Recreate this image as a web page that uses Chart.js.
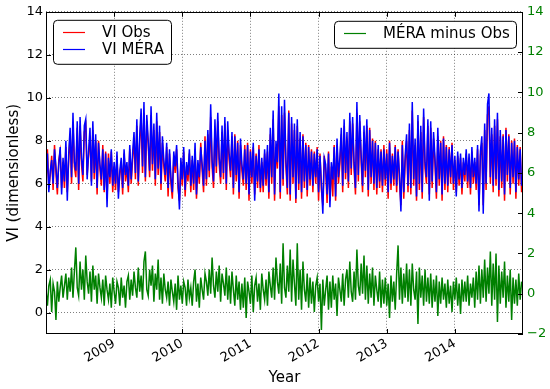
<!DOCTYPE html>
<html>
<head>
<meta charset="utf-8">
<script src="https://cdn.jsdelivr.net/npm/chart.js@4.4.0/dist/chart.umd.min.js"></script>
<style>
  body { margin: 0; background: #fff; }
</style>
</head>
<body>
<canvas id="viChart" width="550" height="389"></canvas>
<script>
// time axis: 48 samples a year, Jan 2008 -> Dec 2014
const startYear = 2008;
const endYear = 2015;
const perYear = 48;

const yearTicks = [2009, 2010, 2011, 2012, 2013, 2014];
const leftTicks = [0, 2, 4, 6, 8, 10, 12, 14];
const rightTicks = [-2, 0, 2, 4, 6, 8, 10, 12, 14];

// VI Obs (red)
const obsVI = [
  // 2008
  5.9,7.6,5.8,6.4,7.3,5.7,7.8,6.5,5.5,7.1,7.5,5.8, 7.0,5.8,7.7,5.6,7.1,8.3,6.0,8.8,6.8,6.3,8.6,5.7,
  8.7,6.9,6.1,8.4,8.7,6.4,7.3,8.2,6.1,8.5,6.2,8.0, 5.5,8.0,6.7,5.9,7.8,5.6,7.5,5.3,7.4,6.0,7.5,5.6,
  // 2009
  6.8,5.7,7.3,5.6,6.4,7.0,5.5,7.4,6.1,6.8,5.6,7.6, 6.0,7.1,8.1,6.2,8.7,5.9,7.9,9.1,6.5,9.3,6.1,8.9,
  7.8,6.3,9.2,6.6,8.5,5.9,8.9,6.4,8.4,5.7,7.9,6.8, 6.1,7.7,5.4,7.4,6.0,5.3,7.3,6.5,7.6,5.8,5.2,7.0,
  // 2010
  5.9,7.5,5.4,6.8,6.1,7.4,5.6,7.1,5.7,7.6,5.3,6.9, 6.0,7.9,6.6,5.6,8.2,5.9,8.3,6.3,9.1,6.8,5.8,8.6,
  6.5,8.9,6.9,6.0,8.4,6.2,8.8,5.7,8.5,7.1,6.3,8.2, 5.5,8.3,6.1,8.0,5.3,7.8,6.6,5.9,7.8,5.7,7.9,5.2,
  // 2011
  7.6,6.0,7.7,5.5,7.4,5.8,7.8,5.6,7.0,5.6,7.4,5.9, 7.5,5.3,8.3,6.0,9.0,5.2,7.7,6.7,9.6,5.3,9.2,5.9,
  9.3,6.8,5.5,9.4,5.2,8.8,6.0,8.5,5.1,8.7,5.7,8.1, 5.3,8.3,5.8,7.9,5.4,7.8,5.9,7.6,5.6,7.5,6.0,7.7,
  // 2012
  5.2,7.4,5.7,5.0,7.3,6.6,5.1,7.5,5.2,6.8,5.4,7.8, 5.2,7.8,6.0,6.9,8.3,5.6,8.7,6.2,8.1,5.8,8.9,6.4,
  8.8,6.7,5.5,9.3,6.1,8.9,7.0,5.6,8.4,6.3,8.7,5.4, 8.6,6.0,8.1,5.7,8.0,5.5,7.6,5.8,7.6,5.6,7.8,5.9,
  // 2013
  7.6,5.3,8.0,5.7,7.4,5.9,7.8,5.6,7.6,6.1,5.0,8.0, 5.3,7.0,8.0,5.6,8.5,5.5,9.4,5.9,7.8,5.2,8.9,5.7,
  8.4,5.3,9.1,6.7,6.0,8.7,5.5,8.6,5.8,8.1,6.9,5.3, 8.2,5.9,8.0,5.2,8.2,5.7,7.8,5.6,7.7,6.0,7.9,5.7,
  // 2014
  7.1,5.6,7.3,5.9,7.2,5.5,7.0,6.1,7.4,5.8,7.2,5.5, 7.5,6.0,7.0,5.7,7.6,5.0,7.3,7.9,5.0,8.5,5.7,9.2,
  9.6,6.0,8.3,5.6,8.7,5.9,9.0,5.4,8.2,5.8,8.3,5.2, 8.6,6.1,8.3,5.5,8.0,6.0,8.1,5.3,7.8,5.9,7.7,5.6
];

// VI MÉRA (blue)
const meraVI = [
  // 2008
  6.2,7.4,5.6,6.6,7.1,6.0,7.6,6.8,5.8,6.9,7.7,5.5, 7.2,6.1,8.0,5.2,7.4,8.6,6.3,9.3,7.0,6.6,8.9,6.0,
  9.1,7.2,6.4,8.7,9.0,6.2,7.5,8.6,5.9,8.9,6.5,8.3, 5.8,7.9,6.9,6.2,7.6,5.7,7.4,4.9,7.2,6.3,7.6,5.9,
  // 2009
  7.0,6.0,7.5,5.3,6.6,7.2,5.8,7.6,6.4,7.0,5.9,7.8, 6.2,7.4,8.4,6.5,9.0,6.1,8.2,9.5,6.8,9.8,6.3,9.2,
  8.0,6.6,9.6,6.9,8.8,6.2,9.3,6.7,8.7,6.0,8.2,7.1, 6.4,7.9,5.8,7.6,6.3,5.6,7.5,6.8,7.8,6.1,4.8,7.2,
  // 2010
  6.2,7.7,5.7,7.0,6.4,7.6,5.9,7.3,6.0,7.9,5.5,7.1, 6.3,7.7,6.9,5.9,8.0,6.2,8.5,6.6,9.7,7.1,6.1,9.0,
  6.8,9.3,7.2,6.3,8.7,6.5,9.1,6.0,8.9,7.4,6.6,8.4, 5.8,8.2,6.4,7.9,5.6,8.1,6.9,6.2,7.6,6.0,7.8,5.5,
  // 2011
  7.5,6.3,7.9,5.2,7.3,6.1,7.6,5.8,7.2,5.9,7.6,6.2, 7.8,5.6,8.6,6.3,9.4,5.5,8.0,7.0,10.2,5.6,9.6,6.2,
  9.9,7.1,5.8,9.3,5.5,9.1,6.3,8.8,5.3,9.0,6.0,8.4, 5.6,8.2,6.1,7.8,5.7,7.7,6.2,7.5,5.9,7.4,6.3,7.6,
  // 2012
  5.6,7.3,6.0,4.6,7.2,6.9,5.5,7.4,4.9,7.0,6.2,7.7, 5.4,8.1,6.3,7.2,8.6,5.9,9.0,6.5,8.4,6.1,9.3,6.7,
  9.1,7.0,5.8,9.8,6.4,9.2,7.3,5.9,8.7,6.6,9.0,5.7, 8.5,6.3,8.0,6.0,7.9,5.8,7.8,6.1,7.5,5.9,7.6,6.2,
  // 2013
  7.4,5.6,7.9,6.0,7.3,6.2,7.7,5.9,7.5,6.4,4.7,7.8, 5.6,7.3,8.3,5.9,8.8,5.8,9.8,6.2,8.1,5.4,9.2,6.0,
  8.7,5.6,9.5,7.0,6.3,9.0,5.2,8.9,6.1,8.4,7.2,5.6, 8.6,6.2,7.9,5.5,8.1,6.0,7.7,5.9,7.6,6.3,7.8,6.0,
  // 2014
  7.3,5.4,7.5,6.2,7.4,5.8,7.2,6.4,7.6,6.1,7.4,5.8, 7.7,6.3,7.2,6.0,7.8,4.7,7.5,8.2,4.6,8.8,6.0,9.7,
  10.2,6.3,8.6,5.9,9.0,6.2,9.3,5.7,8.5,6.1,8.2,5.5, 8.5,6.4,8.2,5.8,7.9,6.3,8.0,5.6,7.7,6.2,7.6,5.9
];

// MÉRA minus Obs (green, right axis)
const diffVI = [
  // 2008
  0.2,-0.6,0.4,0.7,-0.9,0.5,0.1,-1.3,0.6,-0.4,0.3,0.9, -0.2,0.4,1.0,-0.3,0.8,0.1,1.3,-0.2,1.1,2.3,0.3,-0.1,
  1.6,0.2,1.2,-0.3,1.9,0.6,0.0,1.1,-0.4,1.4,0.2,0.9, -0.5,1.0,0.3,-0.2,0.7,-0.6,0.9,0.2,-0.3,0.5,-0.7,0.8,
  // 2009
  0.1,-0.5,0.6,0.3,-0.6,0.8,-0.2,0.4,-0.7,0.6,0.9,-0.3, 0.7,-0.1,1.1,0.3,-0.2,1.3,0.1,0.9,-0.3,1.6,2.1,0.2,
  -0.1,1.2,0.4,1.4,-0.4,1.0,0.2,1.7,-0.3,0.8,-0.5,1.0, 0.2,-0.2,0.6,-0.6,0.7,0.1,-0.4,0.5,-0.8,0.9,-0.3,0.4,
  // 2010
  -0.5,0.6,0.3,-0.6,0.7,-0.2,0.3,-0.6,0.6,1.2,-0.4,0.5, -0.7,0.8,0.2,-0.3,1.0,0.6,-0.1,1.2,0.0,1.8,0.4,-0.2,
  1.1,0.1,1.4,-0.4,1.0,0.5,-0.1,1.3,-0.3,0.9,-0.5,1.1, 0.2,-0.6,0.9,-0.3,0.6,-0.8,0.5,-0.7,0.8,-1.2,0.6,0.1,
  // 2011
  -0.5,0.9,-0.9,0.4,0.8,-0.4,0.5,-0.8,1.0,0.2,-0.3,0.7, -0.6,1.1,0.4,-0.2,1.3,-0.3,1.8,0.6,0.0,1.5,-0.5,2.5,
  0.3,-0.2,1.4,0.1,2.2,-0.4,1.7,0.5,-0.6,2.5,-0.3,1.2, -0.8,1.6,0.2,-0.4,1.0,-0.7,0.8,-0.5,0.6,-0.9,0.4,0.8,
  // 2012
  -0.4,0.5,-1.8,0.7,-0.6,0.2,0.9,-0.8,0.6,-0.7,0.9,-0.3, 0.5,-1.1,0.8,0.2,-0.4,1.0,-0.6,0.7,1.2,-0.2,1.6,0.1,
  -0.4,1.1,-0.3,2.2,0.4,-0.1,1.5,0.0,1.9,-0.3,1.4,-0.5, 1.0,-0.2,1.3,-0.6,0.9,0.2,-0.4,1.1,-0.7,0.7,-0.5,0.8,
  // 2013
  -0.6,0.5,-1.2,0.9,-0.4,0.6,-0.8,1.0,2.4,-0.3,1.3,-0.5, 1.0,-0.2,1.5,-0.4,1.2,-0.6,1.5,0.2,-0.3,1.1,-1.5,1.3,
  -0.2,0.9,-0.6,1.2,-0.4,0.8,-0.5,1.0,-0.7,0.7,-0.4,0.9, -1.1,0.6,-0.5,0.8,-0.3,0.5,-0.7,0.7,-0.5,0.4,-0.9,0.6,
  // 2014
  -0.3,0.8,-0.6,0.5,-1.0,0.7,-0.4,0.6,-0.4,0.9,-0.6,0.5, -0.2,0.8,-0.7,1.1,-0.3,1.4,-0.5,1.2,-0.2,1.7,-0.4,1.3,
  0.0,2.1,-0.6,1.5,-0.3,2.0,-1.4,1.4,-0.5,1.1,-0.2,1.6, -0.7,0.9,-0.4,1.2,-1.3,0.8,-0.5,0.7,-0.6,1.0,-0.3,0.6
];

const fontFamily = "'DejaVu Sans', sans-serif";
const gridColor = "rgba(0,0,0,0.5)";

function toPoints(values) {
  return values.map(function (v, i) {
    return { x: startYear + i / perYear, y: v };
  });
}

function drawLegend(ctx, x, y, w, items) {
  const h = 10 + items.length * 17;
  ctx.save();
  ctx.fillStyle = "#fff";
  ctx.strokeStyle = "#000";
  ctx.lineWidth = 1;
  ctx.beginPath();
  ctx.roundRect(x + 0.5, y + 0.5, w, h, 4);
  ctx.fill();
  ctx.stroke();
  ctx.font = "15px " + fontFamily;
  ctx.textBaseline = "middle";
  ctx.textAlign = "left";
  items.forEach(function (item, k) {
    const cy = Math.round(y + 12.5 + 17 * k) + 0.5;
    ctx.strokeStyle = item.color;
    ctx.lineWidth = 1.2;
    ctx.beginPath();
    ctx.moveTo(x + 10, cy);
    ctx.lineTo(x + 32, cy);
    ctx.stroke();
    ctx.fillStyle = "#000";
    ctx.fillText(item.label, x + 49, cy + 1);
  });
  ctx.restore();
}

// frame, inward tick marks and the two legend boxes
const framePlugin = {
  id: "frame",
  afterDatasetsDraw(chart) {
    const ctx = chart.ctx;
    const a = chart.chartArea;
    const sx = chart.scales.x;
    const sy = chart.scales.y;
    const sy2 = chart.scales.y2;
    ctx.save();
    ctx.strokeStyle = "#000";
    ctx.lineWidth = 1;
    ctx.beginPath();
    sx.ticks.forEach(function (t) {
      const px = Math.round(sx.getPixelForValue(t.value)) + 0.5;
      ctx.moveTo(px, a.bottom);
      ctx.lineTo(px, a.bottom - 5);
      ctx.moveTo(px, a.top);
      ctx.lineTo(px, a.top + 5);
    });
    sy.ticks.forEach(function (t) {
      const py = Math.round(sy.getPixelForValue(t.value)) + 0.5;
      ctx.moveTo(a.left, py);
      ctx.lineTo(a.left + 5, py);
    });
    sy2.ticks.forEach(function (t) {
      const py = Math.round(sy2.getPixelForValue(t.value)) + 0.5;
      ctx.moveTo(a.right, py);
      ctx.lineTo(a.right - 5, py);
    });
    ctx.stroke();
    ctx.strokeRect(Math.round(a.left) + 0.5, Math.round(a.top) + 0.5,
      Math.round(a.right - a.left) - 1, Math.round(a.bottom - a.top) - 1);
    ctx.restore();

    const ds = chart.data.datasets;
    drawLegend(ctx, a.left + 7, a.top + 8, 118, [
      { label: ds[0].label, color: ds[0].borderColor },
      { label: ds[1].label, color: ds[1].borderColor },
    ]);
    drawLegend(ctx, a.right - 189, a.top + 9, 182, [
      { label: ds[2].label, color: ds[2].borderColor },
    ]);
  },
};

const data = {
  datasets: [
    {
      label: "VI Obs",
      data: toPoints(obsVI),
      borderColor: "#ff0000",
      borderWidth: 1.5,
      yAxisID: "y",
      order: 2,
    },
    {
      label: "VI MÉRA",
      data: toPoints(meraVI),
      borderColor: "#0000ff",
      borderWidth: 1.5,
      yAxisID: "y",
      order: 1,
    },
    {
      label: "MÉRA minus Obs",
      data: toPoints(diffVI),
      borderColor: "#008000",
      borderWidth: 1.5,
      yAxisID: "y2",
      order: 3,
    },
  ],
};

const config = {
  type: "line",
  data,
  options: {
    responsive: false,
    animation: false,
    layout: { padding: { top: 10 } },
    plugins: {
      legend: { display: false },
      tooltip: { enabled: false },
    },
    elements: {
      point: { radius: 0 },
      line: { tension: 0 },
    },
    scales: {
      x: {
        type: "linear",
        min: startYear,
        max: endYear,
        afterBuildTicks: function (s) {
          s.ticks = yearTicks.map(function (v) { return { value: v }; });
        },
        afterFit: function (s) { s.height = 55; },
        ticks: {
          autoSkip: false,
          minRotation: 30,
          maxRotation: 30,
          padding: 2,
          color: "#000",
          font: { family: fontFamily, size: 13 },
          callback: function (v) { return String(v); },
        },
        grid: { color: gridColor, drawTicks: false },
        border: { display: false, dash: [1, 2] },
        title: {
          display: true,
          text: "Year",
          color: "#000",
          font: { family: fontFamily, size: 15 },
          padding: { top: 0, bottom: 2 },
        },
      },
      y: {
        position: "left",
        min: -1,
        max: 14,
        afterBuildTicks: function (s) {
          s.ticks = leftTicks.map(function (v) { return { value: v }; });
        },
        afterFit: function (s) { s.width = 46; },
        ticks: {
          padding: 3,
          color: "#000",
          font: { family: fontFamily, size: 13 },
        },
        grid: { color: gridColor, drawTicks: false },
        border: { display: false, dash: [1, 2] },
        title: {
          display: true,
          text: "VI (dimensionless)",
          color: "#000",
          font: { family: fontFamily, size: 15 },
          padding: { top: 5, bottom: 0 },
        },
      },
      y2: {
        position: "right",
        min: -2,
        max: 14,
        afterBuildTicks: function (s) {
          s.ticks = rightTicks.map(function (v) { return { value: v }; });
        },
        afterFit: function (s) { s.width = 27; },
        ticks: {
          padding: 4,
          color: "#008000",
          font: { family: fontFamily, size: 13 },
          callback: function (v) { return String(v).replace("-", "\u2212"); },
        },
        grid: { drawOnChartArea: false, drawTicks: false },
        border: { display: false },
      },
    },
  },
  plugins: [framePlugin],
};

// render
const viChart = new Chart(document.getElementById("viChart"), config);
</script>
</body>
</html>
